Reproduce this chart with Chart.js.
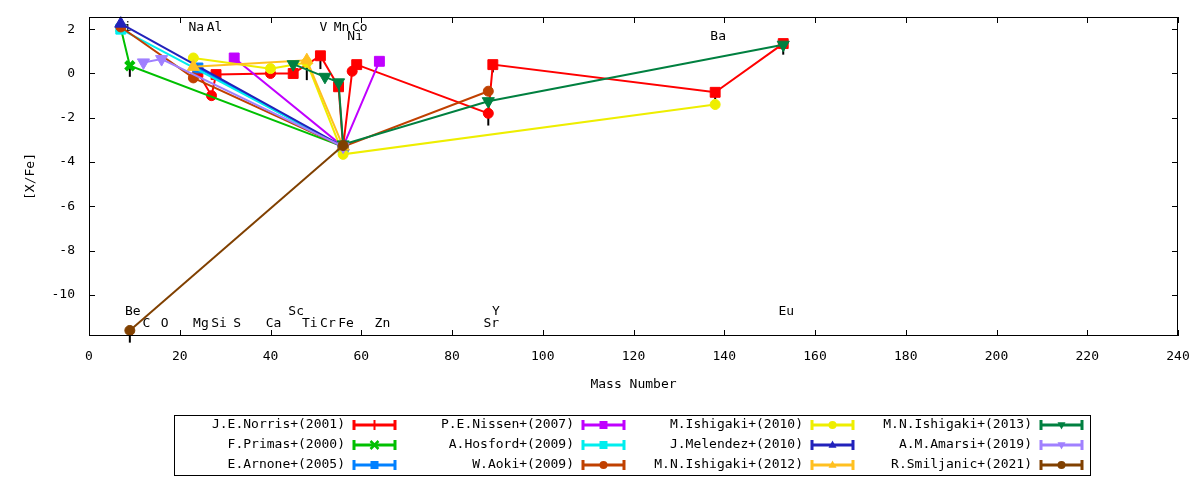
<!DOCTYPE html>
<html lang="en">
<head>
<meta charset="UTF-8">
<title>[X/Fe] vs Mass Number</title>
<script src="https://cdn.jsdelivr.net/npm/chart.js"></script>
<style>
  html, body { margin: 0; padding: 0; background: #fff; }
  #wrap { width: 1200px; height: 480px; position: relative; }
</style>
</head>
<body>
<div id="wrap"><canvas id="abund"></canvas></div>
<script>
// element names and the mass number each one is plotted at
const elemNames = ['Li','Be','C','O','Na','Mg','Al','Si','S','Ca','Sc','Ti','V','Cr','Mn','Fe','Co','Ni','Zn','Sr','Y','Ba','Eu'];
const elemMass  = [7, 9, 12, 16, 23, 24, 27, 28, 32, 40, 45, 48, 51, 52, 55, 56, 59, 58, 64, 88, 89, 138, 153];

const xTicks = [0, 20, 40, 60, 80, 100, 120, 140, 160, 180, 200, 220, 240];
const yTicks = [-10, -8, -6, -4, -2, 0, 2];

// one set of arrays per paper: element, [X/Fe], error
const norrisEl  = ['Mg','Al','Si','Ca','Sc','V','Mn','Fe','Ni','Co','Sr','Y','Ba','Eu'];
const norrisVal = [0.05, -1.0, -0.05, 0.0, 0.0, 0.8, -0.6, -3.3, 0.1, 0.4, -1.8, 0.4, -0.85, 1.35];
const norrisErr = [0, 0, 0, 0, 0, 0.6, 0, 0, 0, 0, 0.55, 0.35, 0.3, 0.5];

const primasEl  = ['Li','Be','Fe'];
const primasVal = [2.05, 0.35, -3.3];
const primasErr = [0, 0.5, 0];

const arnoneEl  = ['Mg','Fe'];
const arnoneVal = [0.25, -3.35];

const nissenEl  = ['S','Fe','Zn'];
const nissenVal = [0.7, -3.3, 0.55];

const hosfordEl  = ['Li','Fe'];
const hosfordVal = [2.0, -3.3];

const aokiEl  = ['Li','Na','Fe','Sr'];
const aokiVal = [2.1, -0.2, -3.3, -0.8];

const ishi10El  = ['Na','Ca','Ti','Fe','Ba'];
const ishi10Val = [0.7, 0.22, 0.5, -3.65, -1.4];

const melendezEl  = ['Li','Fe'];
const melendezVal = [2.25, -3.3];

const ishi12El  = ['Na','Ti','Fe'];
const ishi12Val = [0.3, 0.6, -3.3];
const ishi12Err = [0, 0.9, 0];

const ishi13El  = ['Sc','Cr','Mn','Fe','Sr','Eu'];
const ishi13Val = [0.42, -0.15, -0.4, -3.2, -1.25, 1.3];

const amarsiEl  = ['C','O','Fe'];
const amarsiVal = [0.5, 0.65, -3.3];

const smiljEl  = ['Be','Fe'];
const smiljVal = [-11.6, -3.25];
const smiljErr = [0.55, 0];

const FONT = '"DejaVu Sans Mono", monospace';
const massOf = {};
elemNames.forEach((n, i) => massOf[n] = elemMass[i]);

const norrisStyle = ['rect','circle','rect','circle','rect','rect','rect','circle','circle','rect','circle','rect','rect','rect'];

const series = [
  { label: 'J.E.Norris+(2001)',   el: norrisEl,   val: norrisVal,   err: norrisErr, color: '#ff0000', style: norrisStyle, legend: 'cross' },
  { label: 'F.Primas+(2000)',     el: primasEl,   val: primasVal,   err: primasErr, color: '#00c000', style: 'crossRot' },
  { label: 'E.Arnone+(2005)',     el: arnoneEl,   val: arnoneVal,   color: '#0080ff', style: 'rect' },
  { label: 'P.E.Nissen+(2007)',   el: nissenEl,   val: nissenVal,   color: '#c000ff', style: 'rect' },
  { label: 'A.Hosford+(2009)',    el: hosfordEl,  val: hosfordVal,  color: '#00eeee', style: 'rect' },
  { label: 'W.Aoki+(2009)',       el: aokiEl,     val: aokiVal,     color: '#c04000', style: 'circle' },
  { label: 'M.Ishigaki+(2010)',   el: ishi10El,   val: ishi10Val,   color: '#eeee00', style: 'circle' },
  { label: 'J.Melendez+(2010)',   el: melendezEl, val: melendezVal, color: '#2222bb', style: 'triangle' },
  { label: 'M.N.Ishigaki+(2012)', el: ishi12El,   val: ishi12Val,   err: ishi12Err, color: '#ffc020', style: 'triangle' },
  { label: 'M.N.Ishigaki+(2013)', el: ishi13El,   val: ishi13Val,   color: '#008040', style: 'triangle', flip: true },
  { label: 'A.M.Amarsi+(2019)',   el: amarsiEl,   val: amarsiVal,   color: '#a080ff', style: 'triangle', flip: true },
  { label: 'R.Smiljanic+(2021)',  el: smiljEl,    val: smiljVal,    err: smiljErr, color: '#804000', style: 'circle' }
];

function radiusFor(st) {
  if (st === 'rect') return 7;
  if (st === 'triangle') return 7;
  if (st === 'crossRot') return 6;
  return 5;
}

const datasets = series.map((s, i) => ({
  label: s.label,
  data: s.el.map((e, k) => ({ x: massOf[e], y: s.val[k] })),
  borderColor: s.color,
  backgroundColor: s.color,
  borderWidth: 2,
  pointStyle: s.style,
  pointRadius: Array.isArray(s.style) ? s.style.map(radiusFor) : radiusFor(s.style),
  pointBorderWidth: s.style === 'crossRot' ? 4 : 1,
  pointRotation: s.flip ? 180 : 0,
  pointBackgroundColor: s.color,
  pointBorderColor: s.color,
  tension: 0,
  fill: false,
  clip: false,
  order: series.length - i,
  err: s.err,
  legendStyle: s.legend || (Array.isArray(s.style) ? s.style[0] : s.style),
  flip: !!s.flip
}));

// which row each element name sits on
const labelRow = { Li: 'top', Na: 'top', Al: 'top', V: 'top', Mn: 'top', Co: 'top', Ni: 'top2', Ba: 'top2',
  Be: 'bot2', Sc: 'bot2', Y: 'bot2', Eu: 'bot2' };
const rowValue = { top: 2.07, top2: 1.67, bot: -11.3, bot2: -10.77 };

function drawMark(ctx, st, x, y, r, color, flip) {
  ctx.save();
  ctx.fillStyle = color;
  ctx.strokeStyle = color;
  ctx.beginPath();
  if (st === 'rect') {
    ctx.rect(x - r, y - r, 2 * r, 2 * r);
    ctx.fill();
  } else if (st === 'circle') {
    ctx.arc(x, y, r, 0, Math.PI * 2);
    ctx.fill();
  } else if (st === 'triangle') {
    const d = flip ? -1 : 1;
    ctx.moveTo(x, y - d * r * 1.1);
    ctx.lineTo(x - r, y + d * r * 0.7);
    ctx.lineTo(x + r, y + d * r * 0.7);
    ctx.closePath();
    ctx.fill();
  } else if (st === 'crossRot') {
    ctx.lineWidth = 2.5;
    ctx.moveTo(x - r, y - r); ctx.lineTo(x + r, y + r);
    ctx.moveTo(x - r, y + r); ctx.lineTo(x + r, y - r);
    ctx.stroke();
  } else {
    ctx.lineWidth = 2;
    ctx.moveTo(x, y - r - 1); ctx.lineTo(x, y + r + 1);
    ctx.stroke();
  }
  ctx.restore();
}

const gnuFrame = {
  id: 'gnuFrame',
  beforeDatasetsDraw(chart) {
    const ctx = chart.ctx, xs = chart.scales.x, ys = chart.scales.y;
    ctx.save();
    // element names
    ctx.font = '13px ' + FONT;
    ctx.fillStyle = '#000';
    ctx.textAlign = 'center';
    ctx.textBaseline = 'middle';
    elemNames.forEach((n, i) => {
      const row = labelRow[n] || 'bot';
      ctx.fillText(n, xs.getPixelForValue(elemMass[i]) + 3, ys.getPixelForValue(rowValue[row]));
    });
    // error bars
    ctx.strokeStyle = '#000';
    ctx.lineWidth = 2;
    chart.data.datasets.forEach(ds => {
      if (!ds.err) return;
      ds.data.forEach((p, k) => {
        const e = ds.err[k];
        if (!e) return;
        const px = xs.getPixelForValue(p.x);
        ctx.beginPath();
        ctx.moveTo(px, ys.getPixelForValue(p.y));
        ctx.lineTo(px, ys.getPixelForValue(p.y - e));
        ctx.stroke();
      });
    });
    ctx.restore();
  },
  afterDraw(chart) {
    const ctx = chart.ctx, a = chart.chartArea, xs = chart.scales.x, ys = chart.scales.y;
    ctx.save();
    ctx.strokeStyle = '#000';
    ctx.lineWidth = 1;
    ctx.strokeRect(a.left + 0.5, a.top + 0.5, a.right - a.left - 1, a.bottom - a.top - 1);
    ctx.beginPath();
    xTicks.forEach(v => {
      const px = Math.round(xs.getPixelForValue(v)) + 0.5;
      ctx.moveTo(px, a.bottom); ctx.lineTo(px, a.bottom - 6);
      ctx.moveTo(px, a.top); ctx.lineTo(px, a.top + 6);
    });
    yTicks.forEach(v => {
      const py = Math.round(ys.getPixelForValue(v)) + 0.5;
      ctx.moveTo(a.left, py); ctx.lineTo(a.left + 6, py);
      ctx.moveTo(a.right, py); ctx.lineTo(a.right - 6, py);
    });
    ctx.stroke();

    // legend box, 4 columns x 3 rows
    ctx.strokeRect(174.5, 415.5, 916, 60);
    ctx.font = '13px ' + FONT;
    ctx.textAlign = 'right';
    ctx.textBaseline = 'middle';
    chart.data.datasets.forEach((ds, i) => {
      const col = Math.floor(i / 3), row = i % 3;
      const tx = 345 + col * 229, cy = 425 + row * 20;
      ctx.fillStyle = '#000';
      ctx.fillText(ds.label, tx, cy);
      const x0 = tx + 8, x1 = tx + 51;
      ctx.strokeStyle = ds.borderColor;
      ctx.lineWidth = 3;
      ctx.beginPath();
      ctx.moveTo(x0, cy); ctx.lineTo(x1, cy);
      ctx.moveTo(x0 + 1, cy - 5); ctx.lineTo(x0 + 1, cy + 5);
      ctx.moveTo(x1 - 1, cy - 5); ctx.lineTo(x1 - 1, cy + 5);
      ctx.stroke();
      drawMark(ctx, ds.legendStyle, (x0 + x1) / 2, cy, 4, ds.borderColor, ds.flip);
    });
    ctx.restore();
  }
};

new Chart(document.getElementById('abund'), {
  type: 'line',
  data: { datasets: datasets },
  options: {
    responsive: true,
    maintainAspectRatio: false,
    animation: false,
    layout: { padding: { top: 17, right: 22, left: 0, bottom: 0 } },
    plugins: { legend: { display: false }, tooltip: { enabled: false } },
    scales: {
      x: {
        type: 'linear',
        min: 0, max: 240,
        afterBuildTicks: s => { s.ticks = xTicks.map(v => ({ value: v })); },
        afterFit: s => { s.height = 144; s.paddingLeft = 0; s.paddingRight = 0; },
        grid: { display: false, drawTicks: false },
        border: { display: false },
        ticks: { color: '#000', padding: 13, font: { family: FONT, size: 13 }, maxRotation: 0 },
        title: { display: true, text: 'Mass Number', color: '#000', font: { family: FONT, size: 13 }, padding: { top: 0, bottom: 88 } }
      },
      y: {
        type: 'linear',
        min: -11.85, max: 2.55,
        afterBuildTicks: s => { s.ticks = yTicks.map(v => ({ value: v })); },
        afterFit: s => { s.width = 89; s.paddingTop = 0; s.paddingBottom = 0; },
        grid: { display: false, drawTicks: false },
        border: { display: false },
        ticks: { color: '#000', padding: 14, font: { family: FONT, size: 13 } },
        title: { display: true, text: '[X/Fe]', color: '#000', font: { family: FONT, size: 13 }, padding: { top: 23, bottom: 0 } }
      }
    }
  },
  plugins: [gnuFrame]
});
</script>
</body>
</html>
